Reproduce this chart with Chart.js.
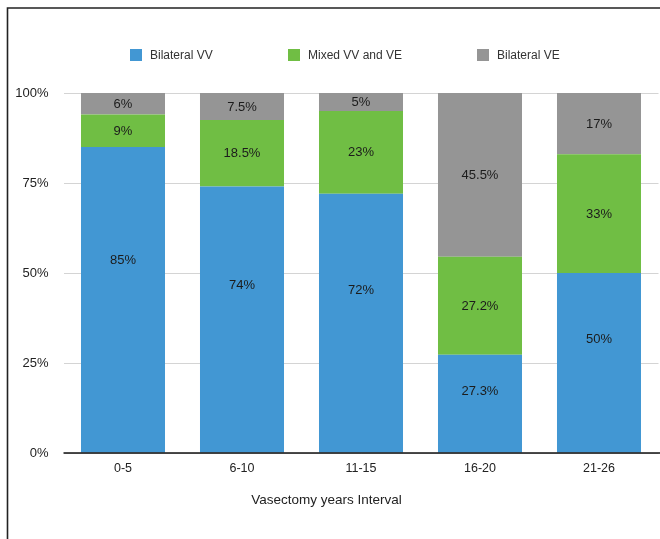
<!DOCTYPE html>
<html>
<head>
<meta charset="utf-8">
<script src="https://cdn.jsdelivr.net/npm/chart.js@4/dist/chart.umd.min.js"></script>
<style>
  html, body { margin: 0; padding: 0; background: #ffffff; }
  #wrap { position: relative; width: 660px; height: 539px; }
</style>
</head>
<body>
<div id="wrap"><canvas id="c" width="660" height="539"></canvas></div>
<script>
const categories = ["0-5", "6-10", "11-15", "16-20", "21-26"];
const bilateralVV = [85, 74, 72, 27.3, 50];
const mixedVVVE = [9, 18.5, 23, 27.2, 33];
const bilateralVE = [6, 7.5, 5, 45.5, 17];
const seriesNames = ["Bilateral VV", "Mixed VV and VE", "Bilateral VE"];
const yTicks = [0, 25, 50, 75, 100];
const xTitle = "Vasectomy years Interval";

const FONT = "'Liberation Sans', Arial, Helvetica, sans-serif";
const colors = ["#4297d3", "#70be44", "#959595"];
const labelFrac = [0.63, 0.5, 0.5];

const extras = {
  id: "extras",
  beforeDraw(chart) {
    const ctx = chart.ctx;
    ctx.save();
    ctx.fillStyle = "#ffffff";
    ctx.fillRect(0, 0, chart.width, chart.height);
    ctx.strokeStyle = "#222222";
    ctx.lineWidth = 1.6;
    ctx.beginPath();
    ctx.moveTo(7.5, chart.height);
    ctx.lineTo(7.5, 8);
    ctx.lineTo(chart.width, 8);
    ctx.stroke();
    ctx.restore();
  },
  afterDatasetsDraw(chart) {
    const ctx = chart.ctx;
    ctx.save();
    ctx.font = "13px " + FONT;
    ctx.fillStyle = "#1c1c1c";
    ctx.textAlign = "center";
    ctx.textBaseline = "middle";
    chart.data.datasets.forEach((ds, i) => {
      const meta = chart.getDatasetMeta(i);
      meta.data.forEach((bar, j) => {
        const top = Math.min(bar.y, bar.base);
        const bottom = Math.max(bar.y, bar.base);
        const y = bottom - (bottom - top) * labelFrac[i];
        ctx.fillText(ds.data[j] + "%", bar.x, y + 0.5);
      });
    });
    // x axis line
    ctx.strokeStyle = "#111111";
    ctx.lineWidth = 1.5;
    ctx.beginPath();
    ctx.moveTo(chart.chartArea.left, chart.chartArea.bottom);
    ctx.lineTo(chart.width, chart.chartArea.bottom);
    ctx.stroke();
    // axis title
    ctx.font = "13.5px " + FONT;
    ctx.fillStyle = "#222222";
    ctx.fillText(xTitle, 326.5, 500.5);
    // legend
    ctx.font = "12px " + FONT;
    const legendX = [130, 288, 477];
    chart.data.datasets.forEach((ds, i) => {
      ctx.fillStyle = ds.backgroundColor;
      ctx.fillRect(legendX[i], 49, 12, 12);
      ctx.fillStyle = "#333333";
      ctx.textAlign = "left";
      ctx.fillText(ds.label, legendX[i] + 20, 56);
    });
    ctx.restore();
  }
};

new Chart(document.getElementById("c"), {
  type: "bar",
  data: {
    labels: categories,
    datasets: [
      { label: seriesNames[0], data: bilateralVV, backgroundColor: colors[0] },
      { label: seriesNames[1], data: mixedVVVE, backgroundColor: colors[1] },
      { label: seriesNames[2], data: bilateralVE, backgroundColor: colors[2] }
    ]
  },
  options: {
    responsive: false,
    animation: false,
    layout: { padding: { top: 93, left: 8, right: 1.5, bottom: 0 } },
    datasets: { bar: { categoryPercentage: 0.706, barPercentage: 1.0, borderWidth: 0 } },
    plugins: { legend: { display: false }, tooltip: { enabled: false }, title: { display: false } },
    scales: {
      x: {
        stacked: true,
        grid: { display: false, drawTicks: false },
        border: { display: false },
        ticks: { color: "#222222", font: { family: FONT, size: 12.5 }, padding: 8 },
        afterFit(s) { s.height = 86; }
      },
      y: {
        stacked: true,
        min: 0, max: 100,
        afterBuildTicks(s) { s.ticks = yTicks.map(v => ({ value: v })); },
        grid: { color: "#d4d4d4", lineWidth: 1, drawTicks: false },
        border: { display: false },
        ticks: { color: "#222222", font: { family: FONT, size: 13 }, padding: 15, callback: v => v + "%" },
        afterFit(s) { s.width = 55.5; }
      }
    }
  },
  plugins: [extras]
});
</script>
</body>
</html>
